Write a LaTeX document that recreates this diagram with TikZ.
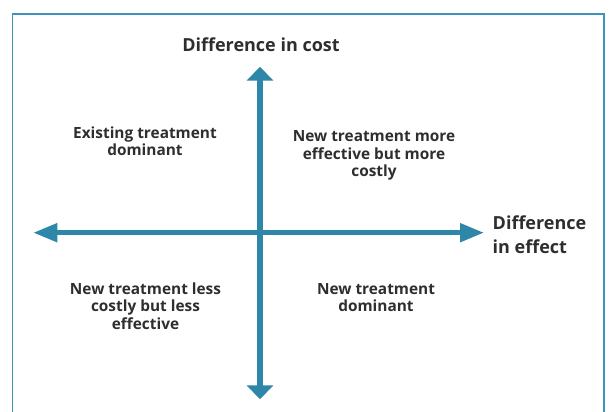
\documentclass[tikz,border=0pt]{standalone}
\usepackage{fontspec}
\setmainfont{Open Sans}
\usetikzlibrary{arrows.meta}
\definecolor{axisblue}{HTML}{2E86A8}
\definecolor{framecol}{HTML}{3F93B8}
\definecolor{textgrey}{HTML}{2E2E2E}

\begin{document}
\begin{tikzpicture}
  [x=1pt,y=-1pt,every node/.style={inner sep=0pt,text=textgrey,align=center}]
 \tikzset{vaxis/.style = {line width=6pt,draw=axisblue,{Triangle[width=26pt,length=14pt]}-{Triangle[width=26pt,length=14pt]}},
          haxis/.style = {line width=5pt,draw=axisblue,{Triangle[width=18pt,length=24pt]}-{Triangle[width=18pt,length=24pt]}},
          title/.style = {font=\bfseries\fontsize{18}{23.5}\selectfont},
          quad/.style  = {font=\bfseries\fontsize{15.4}{17.5}\selectfont}}
  \useasboundingbox (0,0) rectangle (611,412);
  \draw[framecol,line width=1.5pt] (12.5,414) -- (12.5,14) -- (604,14) -- (604,414);

  \coordinate (top) at (260,66.7);
  \coordinate (bot) at (260,399.3);
  \coordinate (lft) at (33.3,232.7);
  \coordinate (rgt) at (484,232.7);

  \draw[haxis] (lft) to (rgt);
  \draw[vaxis] (bot) to (top);

  % base anchor sits on the last line
  \node[title,anchor=base] (cost) at (261,51.5) {Difference in cost};
  \node[title,anchor=base west,align=left] (effect) at (492.5,253.3) {Difference\\in effect};

  \node[quad,anchor=base] (q2) at (145,155.8) {Existing treatment\\dominant};
  \node[quad,anchor=base] (q1) at (374,176.5) {New treatment more\\effective but more\\costly};
  \node[quad,anchor=base] (q3) at (145.5,329) {New treatment less\\costly but less\\effective};
  \node[quad,anchor=base] (q4) at (376,311.5) {New treatment\\dominant};
\end{tikzpicture}
\end{document}
